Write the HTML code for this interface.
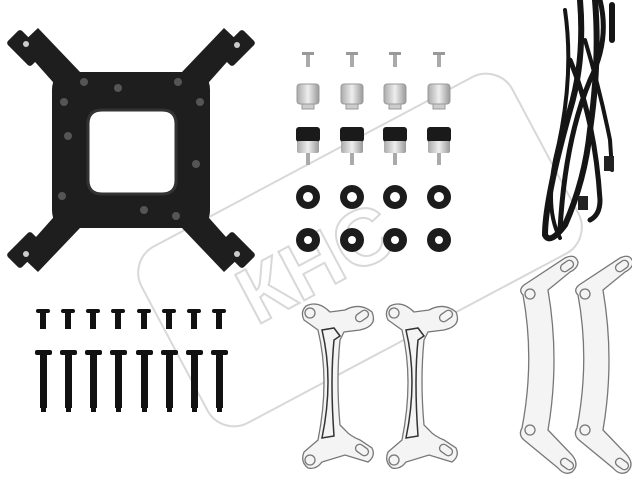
<!DOCTYPE html>
<html><head><style>html,body{margin:0;padding:0;background:#fff;width:632px;height:488px;overflow:hidden}</style></head>
<body>
<svg width="632" height="488" viewBox="0 0 632 488" xmlns="http://www.w3.org/2000/svg">
<defs>
<linearGradient id="kn" x1="0" x2="1"><stop offset="0" stop-color="#aaa"/><stop offset=".5" stop-color="#eee"/><stop offset="1" stop-color="#999"/></linearGradient>
</defs>
<!-- watermark -->
<g fill="none" stroke="#d8d8d8" stroke-width="2">
<rect x="150" y="150" width="420" height="200" rx="30" transform="rotate(-28 360 250)"/>
<text x="240" y="300" font-family="Liberation Sans, sans-serif" font-size="80" font-weight="bold" transform="rotate(-28 300 280)" stroke="#d8d8d8" fill="none">КНС</text>
</g>
<!-- backplate -->
<g fill="#1e1e1e">
<path d="M52 90 Q52 72 70 72 L192 72 Q210 72 210 90 L210 210 Q210 228 192 228 L70 228 Q52 228 52 210Z"/>
<path d="M60 90 L20 45 L38 28 L80 72Z"/>
<path d="M202 90 L242 45 L224 28 L182 72Z"/>
<path d="M60 210 L20 255 L38 272 L80 228Z"/>
<path d="M202 210 L242 255 L224 272 L182 228Z"/>
<rect x="8" y="38" width="34" height="20" rx="3" transform="rotate(45 25 48)"/>
<rect x="220" y="38" width="34" height="20" rx="3" transform="rotate(-45 237 48)"/>
<rect x="8" y="240" width="34" height="20" rx="3" transform="rotate(-45 25 250)"/>
<rect x="220" y="240" width="34" height="20" rx="3" transform="rotate(45 237 250)"/>
</g>
<path d="M102 110 Q88 110 88 124 L88 180 Q88 194 102 194 L162 194 Q176 194 176 180 L176 124 Q176 110 162 110Z" fill="#fff" stroke="#333" stroke-width="3"/>
<g fill="#555"><circle cx="84" cy="82" r="4"/><circle cx="118" cy="88" r="4"/><circle cx="178" cy="82" r="4"/><circle cx="68" cy="136" r="4"/><circle cx="196" cy="164" r="4"/><circle cx="62" cy="196" r="4"/><circle cx="144" cy="210" r="4"/><circle cx="176" cy="216" r="4"/><circle cx="64" cy="102" r="4"/><circle cx="200" cy="102" r="4"/></g>
<g fill="#ccc"><circle cx="26" cy="44" r="3"/><circle cx="237" cy="45" r="3"/><circle cx="26" cy="254" r="3"/><circle cx="237" cy="254" r="3"/></g>
<!-- screws -->
<g fill="#111">
<g id="s1"><rect x="36" y="309" width="14" height="4" rx="2"/><rect x="40" y="312" width="6" height="17"/></g>
<use href="#s1" x="25"/><use href="#s1" x="50"/><use href="#s1" x="75"/><use href="#s1" x="101"/><use href="#s1" x="126"/><use href="#s1" x="151"/><use href="#s1" x="176"/>
<g id="s2"><rect x="35" y="350" width="17" height="5" rx="2"/><rect x="40" y="354" width="7" height="54"/><rect x="41" y="405" width="5" height="7"/></g>
<use href="#s2" x="25"/><use href="#s2" x="50"/><use href="#s2" x="75"/><use href="#s2" x="101"/><use href="#s2" x="126"/><use href="#s2" x="151"/><use href="#s2" x="176"/>
</g>
<!-- small parts -->
<g id="col">
<rect x="302" y="52" width="12" height="3" fill="#999"/><rect x="306" y="55" width="4" height="12" fill="#aaa"/>
<rect x="297" y="84" width="22" height="20" rx="3" fill="url(#kn)" stroke="#999"/><rect x="302" y="104" width="12" height="5" fill="#ccc" stroke="#999"/>
<rect x="296" y="127" width="24" height="15" rx="3" fill="#1a1a1a"/><rect x="297" y="141" width="22" height="12" rx="2" fill="url(#kn)"/><rect x="306" y="153" width="4" height="12" fill="#aaa"/>
<circle cx="308" cy="197" r="12" fill="#1c1c1c"/><circle cx="308" cy="197" r="5" fill="#fff"/>
<circle cx="308" cy="240" r="12" fill="#1c1c1c"/><circle cx="308" cy="240" r="4" fill="#fff"/>
</g>
<use href="#col" x="44"/><use href="#col" x="87"/><use href="#col" x="131"/>
<!-- cable -->
<g fill="none" stroke="#151515" stroke-linecap="round">
<path d="M580 0 Q585 60 570 110 Q545 200 545 235 Q550 245 565 225 Q585 180 590 130 Q600 60 595 0" stroke-width="6"/>
<path d="M600 0 Q610 40 590 80 Q565 140 560 230" stroke-width="5"/>
<path d="M570 60 Q595 120 600 200 Q600 215 590 220" stroke-width="5"/>
<path d="M565 10 Q575 80 555 160 Q545 210 560 238" stroke-width="4"/>
<path d="M612 5 L612 40" stroke-width="6"/>
<path d="M585 40 Q600 90 610 140 L612 170" stroke-width="4"/>
</g>
<rect x="604" y="156" width="10" height="15" fill="#222"/>
<rect x="578" y="196" width="10" height="14" fill="#222"/>
<!-- brackets -->
<g fill="#f4f4f4" stroke="#777" stroke-width="1.3">
<g id="br">
<path d="M306 306 Q300 312 304 320 L318 330 Q330 380 318 440 L304 452 Q300 462 308 468 Q316 470 322 462 L345 455 L368 462 Q376 456 372 448 L360 440 Q350 436 345 430 L340 425 Q336 380 340 340 L344 332 L360 330 Q378 326 372 312 Q360 302 345 310 L330 312 Q318 300 306 306Z"/>
<path d="M322 330 Q334 380 322 438 L334 436 Q330 380 334 340 L340 336 L334 328Z" fill="none" stroke="#333" stroke-width="1.5"/>
<circle cx="310" cy="313" r="5"/><circle cx="310" cy="460" r="5"/>
<rect x="355" y="312" width="14" height="8" rx="4" transform="rotate(-35 362 316)"/>
<rect x="355" y="446" width="14" height="8" rx="4" transform="rotate(35 362 450)"/>
</g>
<use href="#br" x="84"/>
<g id="bw">
<path d="M523 295 Q518 290 524 285 L565 258 Q575 253 578 262 Q578 268 570 272 L548 290 Q560 360 548 430 L572 455 Q580 465 572 472 Q565 476 558 468 L524 440 Q518 435 522 428 Q535 360 523 295Z"/>
<circle cx="530" cy="294" r="5"/><circle cx="530" cy="430" r="5"/>
<rect x="560" y="262" width="14" height="8" rx="4" transform="rotate(-35 567 266)"/>
<rect x="560" y="460" width="14" height="8" rx="4" transform="rotate(35 567 464)"/>
</g>
<use href="#bw" x="55"/>
</g>
</svg>
</body></html>
